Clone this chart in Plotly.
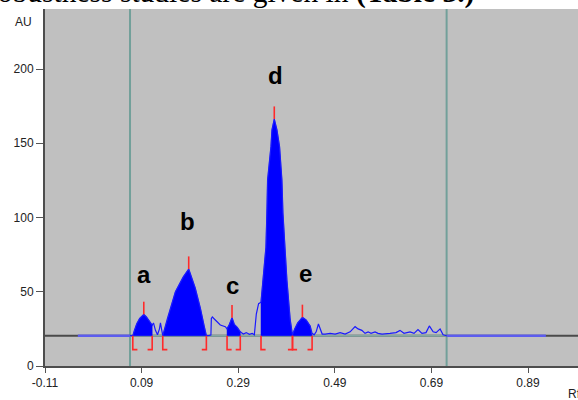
import plotly.graph_objects as go

# ---------------- data ----------------
baseline_au = 20.4
window_rf = [0.066, 0.7215]          # scan window (vertical lines)
flat_rf = [-0.042, 0.927]            # extent of the flat blue trace outside window

rf_scan = [0.066, 0.0718, 0.0750, 0.0800, 0.0860, 0.0945, 0.1000, 0.1060, 0.1100, 0.1119,
           0.1146, 0.1187, 0.1229, 0.1270, 0.1290, 0.1315, 0.1338, 0.1435, 0.1600, 0.1763,
           0.1875, 0.2010, 0.2116, 0.2198, 0.2241, 0.2300, 0.2335, 0.2344, 0.2365, 0.2426,
           0.2530, 0.2633, 0.2669, 0.2716, 0.2772, 0.2820, 0.2881, 0.2943, 0.3005, 0.3067,
           0.3130, 0.3190, 0.3234, 0.3275, 0.3322, 0.3372, 0.3405, 0.3433, 0.3474, 0.3494,
           0.3508, 0.3578, 0.3599, 0.3647, 0.3702, 0.3756, 0.3805, 0.3826, 0.3846, 0.3908,
           0.3977, 0.4024, 0.4070, 0.4132, 0.4229, 0.4307, 0.4390, 0.4430, 0.4472, 0.4514,
           0.4561, 0.4597, 0.4638, 0.4700, 0.4804, 0.4907, 0.5010, 0.5114, 0.5217, 0.5320,
           0.5382, 0.5460, 0.5526, 0.5590, 0.5650, 0.5733, 0.5795, 0.5878, 0.5960, 0.6043,
           0.6167, 0.6250, 0.6333, 0.6457, 0.6540, 0.6622, 0.6705, 0.6788, 0.6857, 0.6936,
           0.6998, 0.7080, 0.7142, 0.7215]
au_scan = [20.4, 20.4, 24.0, 28.5, 32.0, 34.8, 33.0, 30.5, 29.0, 27.5,
           29.0, 24.0, 21.0, 25.0, 29.0, 23.0, 20.4, 32.0, 50.0, 60.0,
           65.3, 52.5, 39.0, 26.5, 20.4, 20.6, 20.8, 32.0, 33.0, 31.0,
           27.6, 26.5, 25.0, 28.0, 32.5, 28.0, 26.0, 23.0, 21.5, 22.5,
           21.3, 22.0, 21.0, 35.0, 42.0, 43.0, 55.0, 67.0, 80.0, 103.0,
           125.0, 147.7, 159.0, 166.3, 159.0, 147.7, 125.0, 103.0, 91.6, 58.0,
           31.0, 21.0, 25.0, 29.0, 32.8, 31.0, 27.0, 22.0, 21.0, 23.0,
           28.3, 25.0, 21.5, 21.5, 22.0, 21.5, 22.5, 21.5, 23.0, 26.5,
           25.0, 24.0, 22.0, 23.0, 22.0, 23.0, 22.0, 21.5, 21.5, 22.0,
           22.5, 24.0, 22.0, 23.0, 22.0, 24.5, 22.0, 22.5, 27.0, 23.0,
           22.5, 25.0, 21.0, 20.4]

peak_labels = ["a", "b", "c", "d", "e"]
peak_start = [0.0718, 0.1338, 0.2669, 0.3372, 0.4024]
peak_end = [0.1119, 0.2241, 0.2943, 0.4024, 0.4430]
peak_rf = [0.0945, 0.1875, 0.2772, 0.3647, 0.4229]
peak_au = [34.8, 65.3, 32.5, 166.3, 32.8]

x_ticks = [-0.11, 0.09, 0.29, 0.49, 0.69, 0.89]
x_ticktext = ["-0.11", "0.09", "0.29", "0.49", "0.69", "0.89"]
y_ticks = [0, 50, 100, 150, 200]

# ---------------- styles ----------------
X_RANGE = [-0.11, 0.9935]
Y_RANGE = [0, 240.4]
FONT = "Liberation Sans, Arial, sans-serif"
RED = "#ff2a2a"

fig = go.Figure()

# baselines
fig.add_shape(type="line", x0=X_RANGE[0], x1=X_RANGE[1], y0=baseline_au, y1=baseline_au,
              xref="x", yref="y", line=dict(color="#4a4a4a", width=2), layer="below")
fig.add_shape(type="line", x0=window_rf[0], x1=window_rf[1], y0=baseline_au, y1=baseline_au,
              xref="x", yref="y", line=dict(color="#86a8a3", width=2), layer="below")
# window lines
for v in window_rf:
    fig.add_shape(type="line", x0=v, x1=v, y0=0, y1=1, xref="x", yref="paper",
                  line=dict(color="#72a09a", width=2), layer="below")

# flat blue parts outside window
fig.add_trace(go.Scatter(x=[flat_rf[0], window_rf[0], None, window_rf[1], flat_rf[1]],
                         y=[baseline_au, baseline_au, None, baseline_au, baseline_au],
                         mode="lines", line=dict(color="#5c5cee", width=2.5),
                         hoverinfo="skip", showlegend=False))

# filled peaks
for s, e in zip(peak_start, peak_end):
    px = [s]
    py = [baseline_au]
    for r, a in zip(rf_scan, au_scan):
        if s - 1e-6 <= r <= e + 1e-6:
            px.append(r)
            py.append(a)
    px += [e, s]
    py += [baseline_au, baseline_au]
    fig.add_trace(go.Scatter(x=px, y=py, mode="lines", fill="toself",
                             fillcolor="#0000ff", line=dict(color="#0000ff", width=0.5),
                             hoverinfo="skip", showlegend=False))

# scan line
fig.add_trace(go.Scatter(x=rf_scan, y=au_scan, mode="lines",
                         line=dict(color="#1a1aff", width=1.2),
                         hoverinfo="skip", showlegend=False))

# peak markers (red ticks above maxima)
mx, my = [], []
for r, a in zip(peak_rf, peak_au):
    mx += [r, r, None]
    my += [a, a + 8.5, None]
fig.add_trace(go.Scatter(x=mx, y=my, mode="lines", line=dict(color=RED, width=1.6),
                         hoverinfo="skip", showlegend=False))

# integration brackets
bx, by = [], []
depth = 9.4
foot = 0.0095
for s, e in zip(peak_start, peak_end):
    bx += [s + foot, s, s, None, e - foot, e, e, None]
    by += [baseline_au - depth, baseline_au - depth, baseline_au, None,
           baseline_au - depth, baseline_au - depth, baseline_au, None]
fig.add_trace(go.Scatter(x=bx, y=by, mode="lines", line=dict(color=RED, width=1.6),
                         hoverinfo="skip", showlegend=False))

# peak letters
label_pos = [(0.0946, 61.3), (0.1848, 97.0), (0.2772, 54.5), (0.3667, 195.3), (0.4287, 62.6)]
for lab, (lx, ly) in zip(peak_labels, label_pos):
    fig.add_annotation(x=lx, y=ly, xref="x", yref="y", text=lab, showarrow=False,
                       font=dict(family=FONT, size=24, color="black", weight="bold"),
                       xanchor="center", yanchor="middle")

# axis captions
fig.add_annotation(x=(23 - 45) / 533, y=1 - (22 - 9) / 357, xref="paper", yref="paper",
                   text="AU", showarrow=False, xanchor="center", yanchor="middle",
                   font=dict(family=FONT, size=12, color="#222"))
fig.add_annotation(x=(566 - 45) / 533, y=(366 - 394) / 357, xref="paper", yref="paper",
                   text="Rf", showarrow=False, xanchor="left", yanchor="middle",
                   font=dict(family=FONT, size=12, color="#222"))
# cropped line of surrounding text
fig.add_annotation(x=(-14 - 45) / 533, y=1.047, xref="paper", yref="paper",
                   text="robustness studies are given in <b>(Table 3.)</b>", showarrow=False,
                   xanchor="left", yanchor="middle",
                   font=dict(family="Liberation Serif, Times New Roman, serif", size=29.5, color="black"))

fig.update_layout(
    width=578, height=400,
    margin=dict(l=45, r=0, t=9, b=34, pad=0),
    paper_bgcolor="white", plot_bgcolor="#c0c0c0",
    showlegend=False,
    xaxis=dict(range=X_RANGE, tickvals=x_ticks, ticktext=x_ticktext, ticks="outside",
               ticklen=5, tickwidth=1, tickcolor="#555", showline=True, linecolor="#4d4d4d",
               linewidth=2, showgrid=False, zeroline=False,
               tickfont=dict(family=FONT, size=12, color="#222")),
    yaxis=dict(range=Y_RANGE, tickvals=y_ticks, ticks="outside", ticklen=7, tickwidth=1,
               tickcolor="#555", showline=True, linecolor="#4d4d4d", linewidth=2,
               showgrid=False, zeroline=False,
               tickfont=dict(family=FONT, size=12, color="#222")),
)

fig.write_html("out.html", config={"displayModeBar": False},
               post_script="document.body.style.margin='0';document.body.style.overflow='hidden';")
